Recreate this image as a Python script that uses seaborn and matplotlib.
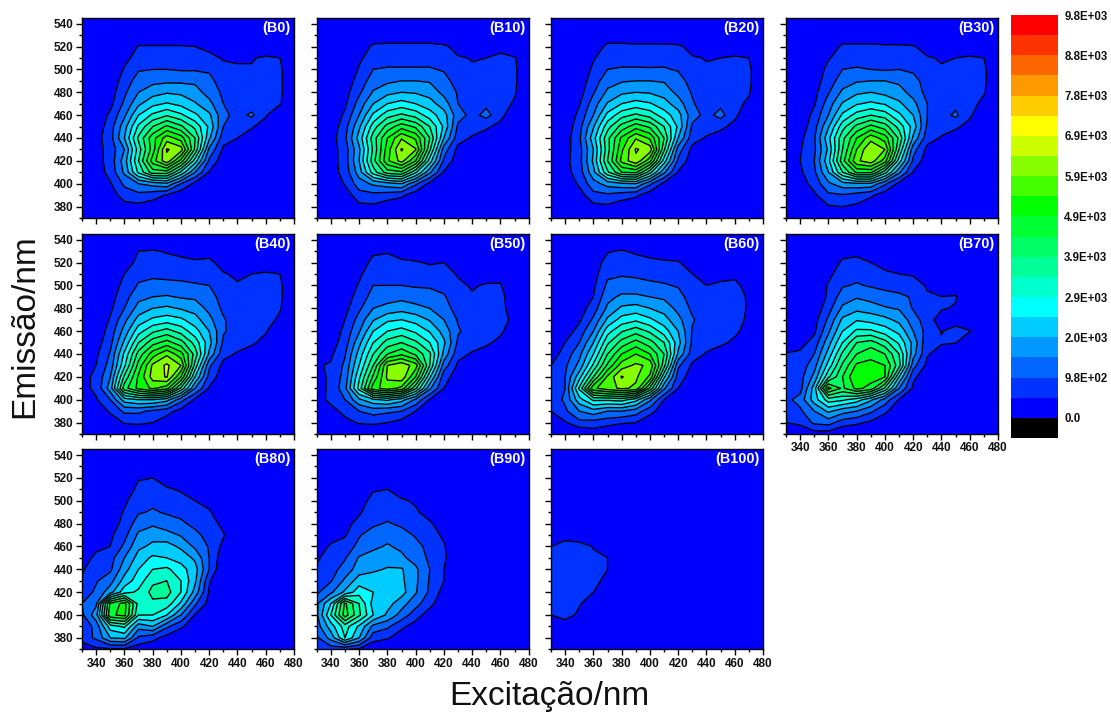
import numpy as np
import matplotlib
matplotlib.use("Agg")
import matplotlib.pyplot as plt
from matplotlib.colors import ListedColormap
from matplotlib.ticker import MultipleLocator
import seaborn as sns

excitation = np.arange(330, 481, 10)
emission = np.arange(370, 541, 10)
# Intensity in units of 49 counts. Rows run from 530 nm down to 370 nm, columns from 330 nm;
# cells left out of a row and rows left out at the end are zero.
B0 = [[],
[0,0,0,0,11,11,11,11,10,7],
[0,0,0,7,14,15,15,15,15,13,9,8,9,12,10],
[0,0,0,11,19,20,20,19,19,18,13,12,11,13,12],
[0,0,4,14,25,27,28,28,28,24,13,11,12,13,12],
[0,0,5,18,30,36,39,38,34,26,18,12,13,14,12],
[0,0,7,22,38,47,51,47,41,33,20,14,15,14,11],
[0,2,12,28,50,62,69,62,52,42,23,16,22,11],
[0,4,15,36,62,80,92,82,67,48,20,13,11,6],
[0,6,16,40,72,96,115,105,80,42,14,10,5],
[0,6,14,30,65,95,131,125,78,28,8,3],
[0,6,14,35,70,105,127,96,55,18,4],
[0,5,13,32,62,85,85,58,30,9],
[0,0,9,22,30,34,38,20,7],
[0,0,4,15,17,14,9,3],
[0,0,0,6,7,5,2]]
B10 = [[],
[0,0,0,0,13,14,14,14,14,12,6,0,0,6],
[0,0,0,8,15,16,16,16,16,15,11,9.5,10,13,11],
[0,0,0,11,20,21,21,21,21,19,13,11,12,13,12],
[0,0,4,14,25,28,30,30,29,24,15,12,13,14,12],
[0,0,6,18,31,37,40,39,36,27,19,13,13,14,11],
[0,0,8,24,40,50,54,50,44,35,20,15,18,13,9],
[0,1,12,30,52,66,72,66,55,44,24,17,23,14],
[0,3,16,38,65,84,96,88,70,48,18,14,12,6],
[0,5,18,44,75,100,119,108,80,40,14,9,4],
[0,5,15,38,72,105,131,121,72,25,7],
[0,5,15,40,76,108,124,100,55,18,4],
[0,5,14,35,65,85,88,62,32,9],
[0,0,11,25,32,36,40,22,7],
[0,0,4,16,17,15,12,4],
[0,0,0,7,8,4,2]]
B20 = [[],
[0,0,0,0,14,14,13,13,13,12,6],
[0,0,0,9,16,16,16,15,16,15,11,9.5,10,12,10],
[0,0,2,12,20,21,21,21,21,19,13,11,12,13,12],
[0,0,4,15,26,29,30,30,29,25,15,12,13,14,12],
[0,0,6,19,32,38,40,39,36,27,19,13,14,14,11],
[0,0,9,25,41,50,54,51,44,35,21,15,18,13,8],
[0,1,13,30,53,66,72,66,55,44,24,17,23,13],
[0,3,16,39,66,84,96,88,70,48,18,14,13,6],
[0,5,18,46,77,102,119,108,80,40,14,9,4],
[0,6,16,40,76,108,131,126,72,25,7],
[0,7,16,42,80,113,128,103,55,18,4],
[0,6,15,37,68,90,92,64,32,9],
[0,1,12,26,34,38,40,22,7],
[0,0,5,17,18,15,12,4],
[0,0,0,7,8,4,2]]
B30 = [[],
[0,0,0,0,13,13,13,12,12,11,5],
[0,0,0,9,15,16,16,16,16,15,11,9,10,12,10],
[0,0,3,13,20,21,20,19,20,18,13,11,11,13,12],
[0,0,5,15,25,29,30,30,28,24,15,12,13,14,12],
[0,0,7,19,32,38,40,37,34,26,17,13,14,14,11],
[0,1,9,25,41,49,52,49,42,33,20,15,17,14,7],
[0,2,13,30,52,64,70,65,52,40,20,16,22,12],
[0,4,16,39,66,83,93,85,66,46,18,14,12,6],
[0,7,19,47,77,100,116,105,78,38,14,9,4],
[0,9,18,42,80,110,130,120,70,24,7],
[0,10,20,47,86,118,126,105,55,18,4],
[0,8,18,40,70,92,92,64,32,9],
[0,5,14,28,36,38,38,22,7],
[0,0,8,18,19,16,12,4],
[0,0,2,9,10,8,2]]
B40 = [[0,0,0,0,10,11,9,6,4,5],
[0,0,0,3,14,15,14,14,12,13,5],
[0,0,0,10,17,18,17,17,16,16,11,8,10,12,10],
[0,0,4,13,21,23,23,22,21,20,13,11,11,13,12],
[0,0,6,16,27,30,31,29,28,25,15,12,13,14,12],
[0,0,8,20,34,40,42,39,36,27,18,13,14,14,11],
[0,1,11,27,44,52,55,52,44,33,21,15,15,14,8],
[0,3,14,34,56,68,74,66,54,40,21,16,20,11],
[0,5,17,42,70,86,94,84,66,44,18,14,12,6],
[0,8,21,52,84,105,118,104,76,38,13,9,4],
[0,10,24,58,94,122,132,120,66,22,7],
[7,12,30,72,102,124,131,100,50,16,4],
[7,12,35,86,103,112,104,68,30,9,2],
[0,9,20,45,50,50,44,24,8],
[0,0,12,22,22,18,14,6],
[0,0,2,11,12,10,4,1]]
B50 = [[0,0,0,0,8,9,5,3,2,3],
[0,0,0,4,13,14,12,11,9,10,4],
[0,0,0,8,16,17,16,15,14,14,9,4,5,6],
[0,0,3,11,20,20,20,19,19,17,12,9,11,11],
[0,0,5,14,24,26,27,25,23,21,14,11,12,13,3],
[0,0,7,18,30,33,36,33,30,24,16,12,13,13,5],
[0,0,10,24,39,48,50,46,39,30,19,15,15,14,7],
[0,2,13,29,50,60,64,58,49,36,21,16,15,12,3],
[0,5,15,37,60,74,80,72,60,42,18,14,12,7],
[0,8,19,44,70,90,98,88,72,37,13,9,5],
[9,11,22,50,80,120,127,115,70,25,8,3],
[8,11,24,58,92,122,127,100,52,14,5],
[8,11,27,64,106,115,107,72,32,10,2],
[5,13,20,38,48,52,44,28,9,3],
[0,6,13,20,24,22,20,10,3],
[0,0,7,11,12,10,6,2]]
B60 = [[0,0,0,0,9,11,8,4,3,3],
[0,0,0,3,15,16,15,14,12,11,4],
[0,0,0,6,18,19,18,17,16,16,10,5,6,8],
[0,0,0,8,22,24,24,22,21,19,13,10,12,12,7],
[0,0,3,10,27,32,32,30,28,24,15,11,13,13,9],
[0,0,5,15,32,42,44,40,36,27,18,13,14,14,9],
[0,0,8,22,42,54,58,52,44,33,21,15,15,14,8],
[0,4,14,30,56,69,76,68,55,40,19,16,15,12,6],
[0,10,20,40,68,84,94,84,70,44,18,14,12,8],
[5,14,27,50,80,100,110,100,80,38,15,9,5],
[10,18,33,62,92,115,122,118,74,22,8,3],
[12,20,46,80,112,131,122,108,52,15,5],
[12,20,62,108,116,122,118,78,32,10,2],
[13,22,46,62,62,64,54,32,10,3],
[10,18,30,36,30,30,25,14,3],
[0,9,17,16,14,11,10,2],
[0,0,0,4]]
B70 = [[0,0,0,0,6,7,3],
[0,0,0,2,12,13,10,8,6,4],
[0,0,0,7,16,17,15,11,10,9,4],
[0,0,0,11,19,21,19,17,16,14,9,4,2],
[0,0,1,12,25,29,26,24,22,19,11,10.2,11],
[0,0,3,16,32,37,35,31,29,19,12,11,9],
[0,0,6,22,42,49,46,43,37,25,14,5,5,3],
[0,2,8,28,50,62,62,55,47,30,16,9.5,14,10.5],
[0,6,14,36,60,80,84,74,58,37,12,11,10.5],
[11,12,20,44,72,90,98,90,70,34,11,5],
[10,14,26,54,82,102,102,100,74,24,7],
[11,16,33,68,90,110,105,100,50,12,4],
[10,16,45,103,88,103,96,68,30,8,2],
[17,24,45,65,62,55,42,26,9],
[11,18,30,42,34,30,22,12,3],
[10,12,22,24,15,12,8,3],
[0,3,5,5]]
B80 = [[],
[0,0,0,0,9,10,6,2],
[0,0,0,3,13,15,11,9,6,3],
[0,0,0,8,16,18,15,13,10,7,5],
[0,0,3,11,19,21,19,17,14,11,4],
[0,1,5,13,25,28,24,22,17,15,7],
[0,5,8,17,32,37,34,29,23,16,11],
[4,8,10,22,38,42,44,38,28,19,7],
[6,12,16,30,44,52,50,46,38,20,3],
[9,14,18,36,50,60,62,54,44,20],
[11,19,26,44,55,68,70,60,42,11],
[14,22,36,56,62,73,74,60,36,9,3],
[20,28,92,104,66,68,66,48,22,6],
[18,36,98,103,60,60,50,30,9,2],
[11,24,55,62,34,40,22,12,3],
[14,22,40,42,18,13,6],
[3,8,8,8,4,3]]
B90 = [[],[],
[0,0,0,0,9,10,6],
[0,0,0,6,13,14,11,9,3],
[0,0,3,9,14,16,14,11,7],
[0,4,8,12,18,21,18,14,11,6],
[3,7,9,19,25,27,24,19,15,8],
[6,11,14,23,28,31,28,23,17,11],
[9,13,19,31,34,35,32,26,18,12],
[11,16,24,35,38,41,41,32,20,10],
[14,19,32,45,46,45,42,32,19,10],
[18,28,42,56,50,46,44,31,18,6],
[28,50,92,70,46,44,34,24,13,3],
[28,60,95,72,50,38,26,14,5],
[25,45,65,48,27,22,12,6,2],
[18,34,60,40,14,11,5,1],
[14,14,11,8,2]]
B100 = [[],[],[],[],[],[],[],
[10,20,16,9,9],
[13,15,15,13,10],
[14,15,15,13,10],
[14,15,14,12,8],
[13,14,13,10,2],
[12,13,11,4],
[10,14,8],
[0,4]]

panel_names = ["B0","B10","B20","B30","B40","B50","B60","B70","B80","B90","B100"]
panel_rows = [B0,B10,B20,B30,B40,B50,B60,B70,B80,B90,B100]
band_colors = ["#000000","#0000FF","#0033FF","#0066FF","#0099FF","#00CCFF","#00FFFF","#00FFCC",
               "#00FF99","#00FF66","#00FF33","#00FF00","#44FF00","#88FF00","#CCFF00","#FFFF00",
               "#FFCC00","#FF9900","#FF6600","#FF3300","#FF0000"]
colorbar_labels = ["0.0","9.8E+02","2.0E+03","2.9E+03","3.9E+03","4.9E+03","5.9E+03","6.9E+03","7.8E+03","8.8E+03","9.8E+03"]

sns.set_theme(style="ticks")
plt.rcParams["font.family"] = ["Liberation Sans", "DejaVu Sans"]
W, H = 1111, 715
fig = plt.figure(figsize=(W/100, H/100), dpi=100, facecolor="white")
col_x = [82, 316.7, 551, 786]
row_y = [18, 234, 449.3]
pw, ph = 212, 200
levels = 490.0*np.arange(0, 21)
palette = sns.color_palette(band_colors, 21)

for n, (name, rows) in enumerate(zip(panel_names, panel_rows)):
    r, c = n//4, n%4
    ax = fig.add_axes([col_x[c]/W, 1-(row_y[r]+ph)/H, pw/W, ph/H])
    Z = np.zeros((len(emission), len(excitation)))
    for i, row in enumerate(rows):
        Z[16-i, :len(row)] = row
    Z = Z*49.0
    ax.set_facecolor(band_colors[1])
    ax.contourf(excitation, emission, Z, levels=levels, colors=palette[1:])
    ax.contour(excitation, emission, Z, levels=levels[1:], colors="black", linewidths=1.0)
    ax.set_xlim(330, 480)
    ax.set_ylim(370, 545)
    ax.xaxis.set_major_locator(MultipleLocator(20))
    ax.xaxis.set_minor_locator(MultipleLocator(10))
    ax.yaxis.set_major_locator(MultipleLocator(20))
    ax.yaxis.set_minor_locator(MultipleLocator(10))
    ax.tick_params(which="major", length=4, width=1, direction="out", color="black", labelsize=8.5, pad=2,
                   labelleft=(c == 0), labelbottom=(r == 2 or n == 7), left=True, bottom=True)
    ax.tick_params(which="minor", length=2.5, width=1, direction="out", color="black", left=True, bottom=True)
    for lab in ax.get_xticklabels() + ax.get_yticklabels():
        lab.set_fontweight("bold")
        lab.set_color("#111111")
    for sp in ax.spines.values():
        sp.set_linewidth(1.0)
        sp.set_color("black")
    ax.text(0.985, 0.95, f"({name})", transform=ax.transAxes, ha="right", va="center",
            color="white", fontsize=10.4, fontweight="bold")

cax = fig.add_axes([1011/W, 1-438/H, 47/W, 423/H])
bands = np.arange(20, -1, -1).reshape(-1, 1)
sns.heatmap(bands, ax=cax, cmap=ListedColormap(palette), cbar=False, xticklabels=False, vmin=-0.5, vmax=20.5)
cax.set_yticks(20-2.0*np.arange(len(colorbar_labels)))
cax.set_yticklabels(colorbar_labels, rotation=0, fontsize=8.3, fontweight="bold", color="#111111")
cax.yaxis.tick_right()
cax.tick_params(axis="y", length=0, pad=4.5)

fig.text(549/W, 1-697/H, "Excitação/nm", ha="center", va="center", fontsize=24, color="#111111")
fig.text(25/W, 1-326/H, "Emissão/nm", ha="center", va="center", rotation=90, fontsize=24, color="#111111")
fig.savefig("out.png", dpi=100)
